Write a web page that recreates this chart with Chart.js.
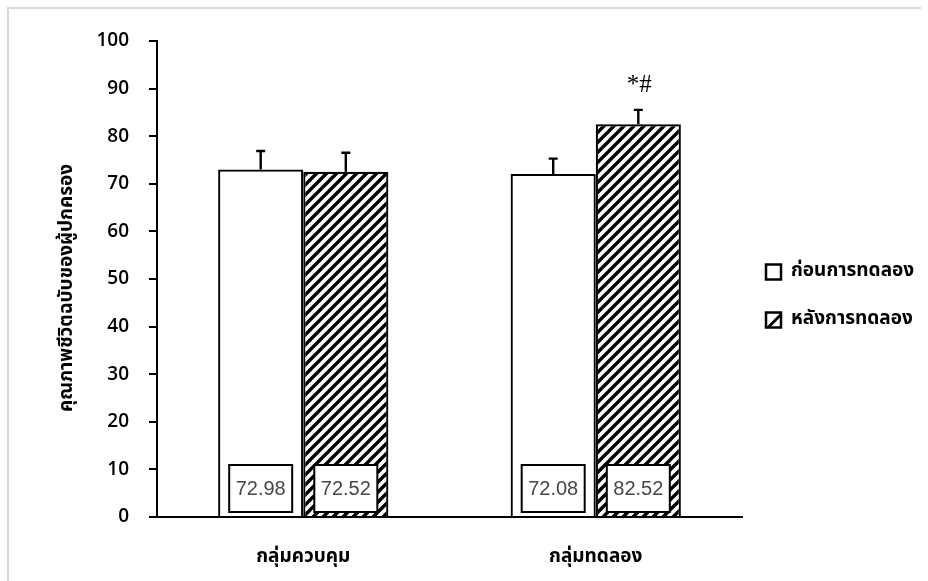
<!DOCTYPE html>
<html><head><meta charset="utf-8">
<script src="https://cdn.jsdelivr.net/npm/chart.js@4/dist/chart.umd.min.js"></script>
<style>html,body{margin:0;padding:0;background:#fff}#wrap{width:928px;height:581px;position:relative}</style>
</head><body><div id="wrap"><canvas id="c" width="928" height="581"></canvas></div>
<script>
const categories = ['กลุ่มควบคุม', 'กลุ่มทดลอง'];
const seriesNames = ['ก่อนการทดลอง', 'หลังการทดลอง'];
const beforeValues = [72.98, 72.08];
const afterValues = [72.52, 82.52];
const beforeSD = [3.9, 3.2];
const afterSD = [4.0, 3.0];
const afterMarks = ['', '*#'];
const yTickValues = [0, 10, 20, 30, 40, 50, 60, 70, 80, 90, 100];
const yTitle = 'คุณภาพชีวิตฉบับของผู้ปกครอง';

const THAI = '"Noto Sans Thai","Noto Sans","Liberation Sans","DejaVu Sans",sans-serif';

function makeHatch() {
  const s = 10;
  const pc = document.createElement('canvas');
  pc.width = s; pc.height = s;
  const g = pc.getContext('2d');
  g.fillStyle = '#fff'; g.fillRect(0, 0, s, s);
  g.strokeStyle = '#000'; g.lineWidth = 3.4; g.lineCap = 'square';
  g.beginPath();
  g.moveTo(-2, s + 2); g.lineTo(s + 2, -2);
  g.moveTo(-2, 2); g.lineTo(2, -2);
  g.moveTo(s - 2, s + 2); g.lineTo(s + 2, s - 2);
  g.stroke();
  return document.getElementById('c').getContext('2d').createPattern(pc, 'repeat');
}
const hatch = makeHatch();

const sdList = [beforeSD, afterSD];
const markList = [['', ''], afterMarks];

const overlay = {
  id: 'overlay',
  beforeDraw(chart) {
    const ctx = chart.ctx;
    ctx.save();
    ctx.strokeStyle = '#d9d9d9'; ctx.lineWidth = 2;
    ctx.beginPath();
    ctx.moveTo(8, 581); ctx.lineTo(8, 8); ctx.lineTo(921, 8);
    ctx.stroke();
    ctx.restore();
  },
  afterDatasetsDraw(chart) {
    const ctx = chart.ctx;
    const y = chart.scales.y;
    ctx.save();
    chart.data.datasets.forEach((ds, di) => {
      const meta = chart.getDatasetMeta(di);
      meta.data.forEach((el, i) => {
        const v = ds.data[i];
        const top = y.getPixelForValue(v + sdList[di][i]);
        ctx.strokeStyle = '#000'; ctx.lineWidth = 2.4;
        ctx.beginPath();
        ctx.moveTo(el.x, el.y); ctx.lineTo(el.x, top);
        ctx.moveTo(el.x - 4.5, top); ctx.lineTo(el.x + 4.5, top);
        ctx.stroke();
        const bw = 63, bh = 47;
        const bottom = y.getPixelForValue(0) - 5;
        ctx.fillStyle = '#fff';
        ctx.fillRect(el.x - bw / 2, bottom - bh, bw, bh);
        ctx.lineWidth = 2;
        ctx.strokeRect(el.x - bw / 2, bottom - bh, bw, bh);
        ctx.fillStyle = '#474747';
        ctx.font = '20px "Liberation Sans", Arial, sans-serif';
        ctx.textAlign = 'center'; ctx.textBaseline = 'middle';
        ctx.fillText(v.toFixed(2), el.x, bottom - bh / 2 + 1);
        const mk = markList[di][i];
        if (mk) {
          ctx.fillStyle = '#000';
          ctx.font = '25px "Liberation Serif", "Times New Roman", serif';
          ctx.fillText(mk, el.x + 1, 85);
        }
      });
    });
    ctx.restore();
  },
  afterDraw(chart) {
    const ctx = chart.ctx;
    ctx.save();
    ctx.translate(68, 288);
    ctx.rotate(-Math.PI / 2);
    ctx.fillStyle = '#000';
    ctx.font = 'bold 19px ' + THAI;
    ctx.textAlign = 'center'; ctx.textBaseline = 'middle';
    ctx.fillText(yTitle, 0, 0);
    ctx.restore();
    ctx.save();
    const items = [{ y: 272, fill: '#fff' }, { y: 320, fill: 'hatch' }];
    chart.data.datasets.forEach((ds, di) => {
      const it = items[di];
      const sx = 766, sz = 15;
      ctx.fillStyle = '#fff';
      ctx.fillRect(sx, it.y - sz / 2, sz, sz);
      if (it.fill === 'hatch') {
        ctx.beginPath();
        ctx.moveTo(sx, it.y + sz / 2); ctx.lineTo(sx + sz, it.y - sz / 2); ctx.lineTo(sx + sz, it.y - sz / 2 + 4); ctx.lineTo(sx + 4, it.y + sz / 2);
        ctx.closePath(); ctx.fillStyle = '#000'; ctx.fill();
      }
      ctx.strokeStyle = '#000'; ctx.lineWidth = 2.5;
      ctx.strokeRect(sx, it.y - sz / 2, sz, sz);
      ctx.fillStyle = '#000';
      ctx.font = 'bold 19px ' + THAI;
      ctx.textAlign = 'left'; ctx.textBaseline = 'middle';
      ctx.fillText(ds.label, 791, it.y);
    });
    ctx.restore();
  }
};

new Chart(document.getElementById('c'), {
  type: 'bar',
  data: {
    labels: categories,
    datasets: [
      { label: seriesNames[0], data: beforeValues, backgroundColor: '#fff', borderColor: '#000', borderWidth: 2.2 },
      { label: seriesNames[1], data: afterValues, backgroundColor: hatch, borderColor: '#000', borderWidth: 2.2 }
    ]
  },
  options: {
    responsive: false,
    animation: false,
    devicePixelRatio: 1,
    layout: { autoPadding: false, padding: { left: 0, right: 186, top: 41, bottom: 0 } },
    datasets: { bar: { barPercentage: 1, categoryPercentage: 0.582, borderSkipped: 'start' } },
    plugins: { legend: { display: false }, tooltip: { enabled: false } },
    scales: {
      x: {
        grid: { display: false },
        border: { display: true, color: '#000', width: 2 },
        ticks: { color: '#000', font: { family: THAI, size: 19, weight: 'bold' }, padding: 22 },
        afterFit(s) { s.height = 64; }
      },
      y: {
        min: 0, max: 100,
        afterBuildTicks(s) { s.ticks = yTickValues.map(v => ({ value: v })); },
        grid: { drawOnChartArea: false, drawTicks: true, tickLength: 8, color: '#000', lineWidth: 2 },
        border: { display: true, color: '#000', width: 2 },
        ticks: { color: '#000', font: { family: '"Open Sans", "Liberation Sans", sans-serif', size: 19, weight: 600 }, padding: 20 },
        afterFit(s) { s.width = 157; }
      }
    }
  },
  plugins: [overlay]
});
</script>
</body></html>
